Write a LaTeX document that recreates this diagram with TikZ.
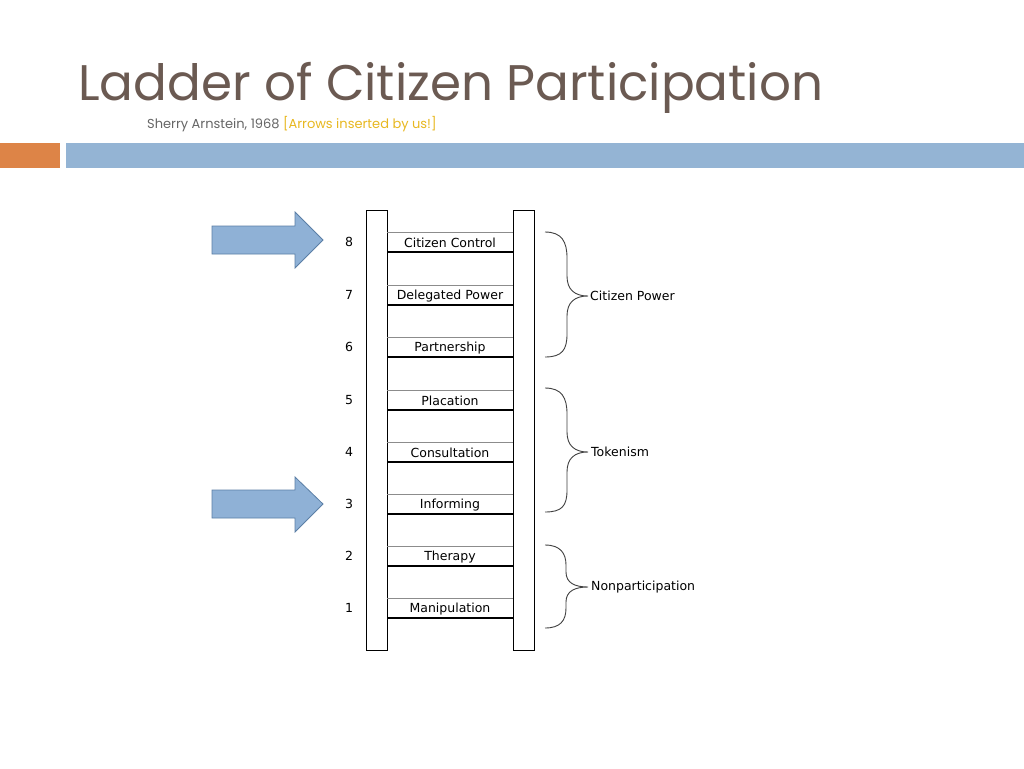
\documentclass[tikz,border=0pt]{standalone}
\usepackage{fontspec}
\setmainfont{DejaVu Sans}
\newfontfamily\titlefont{Poppins}
\definecolor{titlec}{HTML}{6B5A52}
\definecolor{orangec}{HTML}{DD8447}
\definecolor{bluec}{HTML}{94B4D4}
\definecolor{arrowfill}{HTML}{8FB1D6}
\definecolor{arrowdraw}{HTML}{5B7FA6}
\definecolor{yellowc}{HTML}{E8B820}
\begin{document}
\begin{tikzpicture}[x=1pt,y=-1pt,
  rail/.style={draw=black,line width=1pt,fill=white},
  lbl/.style={font=\fontsize{12.5}{14}\selectfont,inner sep=0},
  num/.style={font=\fontsize{12.5}{14}\selectfont,inner sep=0},
  grp/.style={font=\fontsize{12.5}{14}\selectfont,anchor=west,inner sep=0},
  brc/.style={draw=black!75,line width=0.9pt},
  bigarrow/.style={draw=arrowdraw,fill=arrowfill,line width=0.8pt}]
\useasboundingbox (0,0) rectangle (1024,768);
\fill[white] (0,0) rectangle (1024,768);
\node[anchor=base west,inner sep=0,text=titlec,font=\titlefont\fontsize{50}{56}\selectfont] (title) at (78,100) {Ladder of Citizen Participation};
\node[anchor=base west,inner sep=0,font=\titlefont\fontsize{13}{15}\selectfont] (sub) at (147,128) {\textcolor{black!60}{Sherry Arnstein, 1968} \textcolor{yellowc}{[Arrows inserted by us!]}};
\fill[orangec] (0,143) rectangle (60,168);
\fill[bluec] (66,143) rectangle (1024,168);
% rails
\draw[rail] (366,210) rectangle (387,650);
\draw[rail] (513,210) rectangle (534,650);
\foreach \n/\t/\y in {8/Citizen Control/242,7/Delegated Power/295,6/Partnership/347,5/Placation/400,4/Consultation/452,3/Informing/504,2/Therapy/556,1/Manipulation/608}{
  \draw[black!45,line width=0.9pt] (387,\y-10) -- (513,\y-10);
  \draw[black,line width=1.3pt] (387,\y+10) -- (513,\y+10);
  \node[lbl] (s\n) at (450,\y+1) {\t};
  \node[num] (n\n) at (349,\y) {\n};
}
% braces
\draw[brc] (545,232) .. controls (562,232) and (567,242) .. (567,258) -- (567,276) .. controls (567,290) and (575,296) .. (588,296) .. controls (575,296) and (567,302) .. (567,316) -- (567,334) .. controls (567,350) and (562,357) .. (545,357);
\draw[brc] (545,388) .. controls (562,388) and (567,398) .. (567,414) -- (567,432) .. controls (567,446) and (575,452) .. (588,452) .. controls (575,452) and (567,458) .. (567,472) -- (567,490) .. controls (567,506) and (562,512) .. (545,512);
\draw[brc] (545,545) .. controls (560,545) and (566,553) .. (566,565) -- (566,572) .. controls (566,583) and (575,587) .. (588,587) .. controls (575,587) and (566,591) .. (566,602) -- (566,608) .. controls (566,621) and (560,628) .. (545,628);
\node[grp] (g1) at (590,296) {Citizen Power};
\node[grp] (g2) at (591,452) {Tokenism};
\node[grp] (g3) at (591,587) {Nonparticipation};
% arrows
\draw[bigarrow] (212,226) -- (295,226) -- (295,212) -- (323,240) -- (295,268) -- (295,254) -- (212,254) -- cycle;
\draw[bigarrow] (212,490) -- (295,490) -- (295,477) -- (323,504) -- (295,532) -- (295,518) -- (212,518) -- cycle;
\end{tikzpicture}
\end{document}
